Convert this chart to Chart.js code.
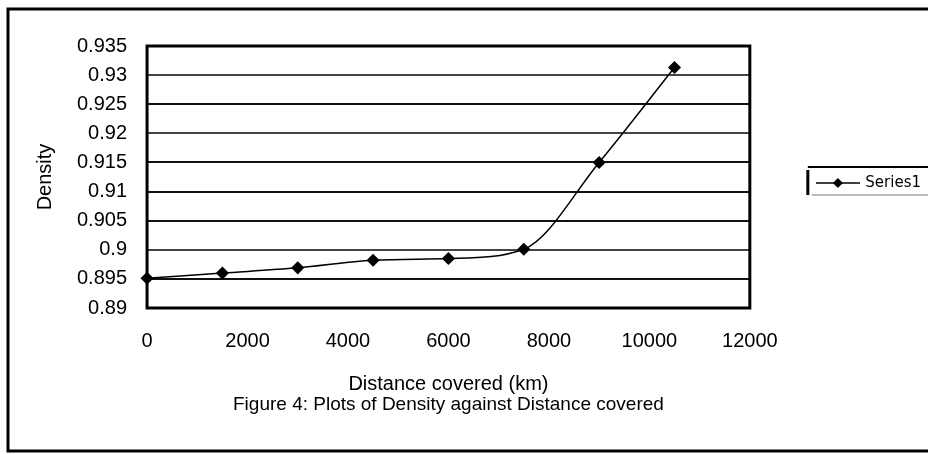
<!DOCTYPE html>
<html>
<head>
<meta charset="utf-8">
<script src="https://cdn.jsdelivr.net/npm/chart.js@4.4.1/dist/chart.umd.min.js"></script>
<style>
  html, body { margin: 0; padding: 0; background: #fff; }
  #wrap { position: relative; width: 928px; height: 454px; }
</style>
</head>
<body>
<div id="wrap"><canvas id="chart" width="928" height="454"></canvas></div>
<script>
// Distance covered (km) and measured density
const distance = [0, 1500, 3000, 4500, 6000, 7500, 9000, 10500];
const density = [0.8951, 0.8960, 0.8969, 0.8982, 0.8985, 0.9001, 0.9150, 0.9313];

const xTicks = [0, 2000, 4000, 6000, 8000, 10000, 12000];
const yTicks = [0.89, 0.895, 0.9, 0.905, 0.91, 0.915, 0.92, 0.925, 0.93, 0.935];

const FONT = '"Liberation Sans", Arial, sans-serif';

// legend symbol: line with a diamond in the middle
const legendSymbol = document.createElement('canvas');
legendSymbol.width = 44;
legendSymbol.height = 12;
(() => {
    const c = legendSymbol.getContext('2d');
    c.strokeStyle = '#000';
    c.lineWidth = 1.5;
    c.beginPath();
    c.moveTo(0, 6);
    c.lineTo(44, 6);
    c.stroke();
    c.fillStyle = '#000';
    c.beginPath();
    c.moveTo(22, 1);
    c.lineTo(27, 6);
    c.lineTo(22, 11);
    c.lineTo(17, 6);
    c.closePath();
    c.fill();
})();

// frame around the whole figure, plot border and legend box
const framePlugin = {
    id: 'frame',
    beforeDraw(chart) {
        const ctx = chart.ctx;
        ctx.save();
        ctx.strokeStyle = '#000';
        ctx.lineWidth = 3;
        ctx.beginPath();
        ctx.moveTo(930, 9);
        ctx.lineTo(8, 9);
        ctx.lineTo(8, 451);
        ctx.lineTo(930, 451);
        ctx.stroke();
        ctx.restore();
    },
    afterDatasetsDraw(chart) {
        const { ctx, chartArea: a } = chart;
        ctx.save();
        ctx.strokeStyle = '#000';
        ctx.lineWidth = 3;
        ctx.strokeRect(a.left, a.top, a.right - a.left, a.bottom - a.top);
        ctx.restore();
    },
    afterDraw(chart) {
        const hb = chart.legend && chart.legend.legendHitBoxes && chart.legend.legendHitBoxes[0];
        if (!hb) return;
        const ctx = chart.ctx;
        const cy = hb.top + hb.height / 2;
        const left = hb.left - 10;
        ctx.save();
        ctx.strokeStyle = '#000';
        ctx.lineWidth = 2;
        ctx.beginPath();
        ctx.moveTo(left, cy - 16);
        ctx.lineTo(930, cy - 16);
        ctx.stroke();
        ctx.lineWidth = 3;
        ctx.beginPath();
        ctx.moveTo(left, cy - 13);
        ctx.lineTo(left, cy + 12);
        ctx.stroke();
        ctx.strokeStyle = '#777';
        ctx.lineWidth = 1;
        ctx.beginPath();
        ctx.moveTo(left + 4, cy + 12);
        ctx.lineTo(930, cy + 12);
        ctx.stroke();
        ctx.restore();
    }
};

new Chart(document.getElementById('chart'), {
    type: 'scatter',
    data: {
        datasets: [{
            label: 'Series1',
            data: distance.map((d, i) => ({ x: d, y: density[i] })),
            showLine: true,
            borderColor: '#000',
            borderWidth: 1.5,
            backgroundColor: '#000',
            pointStyle: 'rectRot',
            pointRadius: 5.5,
            pointHoverRadius: 5.5,
            cubicInterpolationMode: 'monotone',
            clip: false
        }]
    },
    options: {
        responsive: false,
        animation: false,
        events: [],
        layout: { padding: { top: 46, left: 29, right: -3, bottom: 0 } },
        scales: {
            x: {
                type: 'linear',
                min: 0,
                max: 12000,
                afterBuildTicks: (s) => { s.ticks = xTicks.map(v => ({ value: v })); },
                grid: { display: false, drawTicks: false },
                border: { display: false },
                ticks: {
                    color: '#000',
                    padding: 21,
                    autoSkip: false,
                    maxRotation: 0,
                    minRotation: 0,
                    font: { family: FONT, size: 20 },
                    callback: (v) => String(v)
                },
                title: {
                    display: true,
                    text: 'Distance covered (km)',
                    color: '#000',
                    font: { family: FONT, size: 20, lineHeight: 1 },
                    padding: { top: 0, bottom: 1 }
                }
            },
            y: {
                min: 0.89,
                max: 0.935,
                afterBuildTicks: (s) => { s.ticks = yTicks.map(v => ({ value: v })); },
                grid: {
                    drawTicks: false,
                    color: (c) => [0.92, 0.93, 0.9].includes(c.tick && c.tick.value) ? '#444' : '#111',
                    lineWidth: 2
                },
                border: { display: false },
                ticks: {
                    color: '#000',
                    padding: 20,
                    autoSkip: false,
                    font: { family: FONT, size: 20 },
                    callback: (v) => String(parseFloat(v.toFixed(3)))
                },
                title: {
                    display: true,
                    text: 'Density',
                    color: '#000',
                    font: { family: FONT, size: 20 },
                    padding: { top: 4, bottom: 0 }
                }
            }
        },
        plugins: {
            legend: {
                position: 'right',
                fullSize: false,
                title: {
                    display: true,
                    text: ' ',
                    font: { size: 12, lineHeight: 1 },
                    padding: { top: 0, bottom: 0 }
                },
                labels: {
                    color: '#000',
                    font: { family: '"DejaVu Sans", sans-serif', size: 15 },
                    usePointStyle: true,
                    pointStyle: legendSymbol,
                    pointStyleWidth: 40,
                    padding: 68
                }
            },
            title: {
                display: true,
                position: 'bottom',
                fullSize: false,
                text: 'Figure 4: Plots of Density against Distance covered',
                color: '#000',
                font: { family: FONT, size: 19, weight: 'normal', lineHeight: 1 },
                padding: { top: 0, bottom: 40 }
            },
            tooltip: { enabled: false }
        }
    },
    plugins: [framePlugin]
});
</script>
</body>
</html>
